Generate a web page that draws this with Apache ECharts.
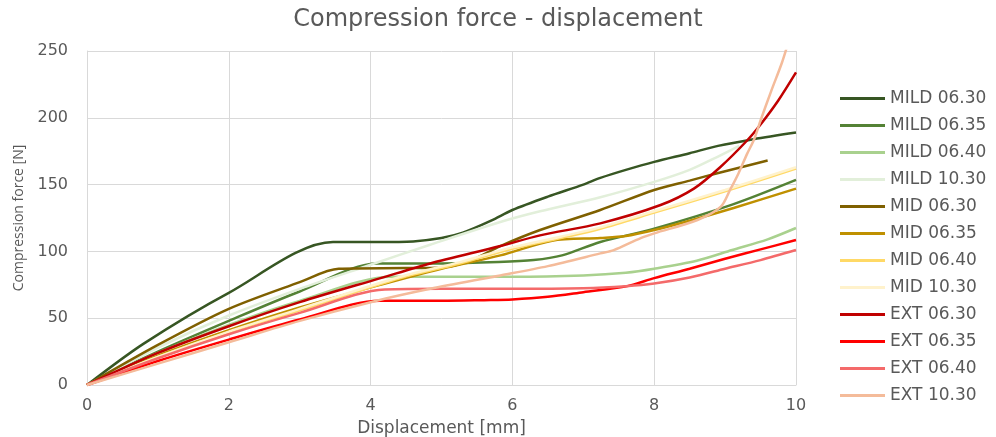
<!DOCTYPE html>
<html>
<head>
<meta charset="utf-8">
<script src="https://cdn.jsdelivr.net/npm/echarts@6/dist/echarts.min.js"></script>
<style>
html,body{margin:0;padding:0;background:#fff;}
#chart{width:996px;height:437px;}
</style>
</head>
<body>
<div id="chart"></div>
<script>
// ---- data (x = displacement [mm], y = compression force [N]) ----
const seriesNames = ["MILD 06.30","MILD 06.35","MILD 06.40","MILD 10.30","MID 06.30","MID 06.35","MID 06.40","MID 10.30","EXT 06.30","EXT 06.35","EXT 06.40","EXT 10.30"];
const seriesColors = ["#375623","#548235","#A9D18E","#E2EFDA","#7F6000","#BF9000","#FFD966","#FFF2CC","#C00000","#FF0000","#F46A6A","#F4BB9A"];

const mild0630 = [[0,0],[0.8,31],[2,69],[3.47,107],[4.1,107],[4.6,107.5],[5,110],[5.3,114],[5.7,123],[6,131],[6.5,141],[7,150],[7.24,155],[7.6,161],[8,167],[8.5,173.5],[8.9,179],[9.4,184],[10,189]];
const mild0635 = [[0,0],[1,25],[2,48],[3,70],[4.1,91],[5,91],[5.8,92],[6.3,93.5],[6.7,97],[7.24,107],[8,117],[9.1,135],[10,153.5]];
const mild0640 = [[0,0],[1,24],[2,45],[3,63],[4.3,81],[5,81],[6,81],[7,82],[7.6,84],[8,87],[8.6,93],[9.1,101],[9.6,109],[10,117.5]];
const mild1030 = [[0,0],[1,28],[2,52],[3,72],[4,90],[4.84,105],[5.83,122],[6.39,130],[7.24,140.5],[8,152],[8.5,161],[8.9,171],[9.2,179]];
const mid0630 = [[0,0],[1,30],[2,57],[3,77],[3.55,87],[4.5,87.5],[5,88],[5.4,93],[5.83,104],[6.39,116],[7.24,131],[8,146],[8.5,153],[8.89,158.5],[9.6,168]];
const mid0635 = [[0,0],[1,22],[2,41],[3,58],[4.14,75],[5,87],[5.83,97],[6.56,108],[7.24,110],[7.6,111.5],[8,116],[8.5,123],[9.12,132.5],[10,147]];
const mid0640 = [[0,0],[1,21],[2,39.5],[3,56],[4.42,80],[5.26,91],[6,102],[6.68,110],[7.24,117],[8,129],[9,145],[10,162]];
const mid1030 = [[0,0],[1,21],[2,40],[3,57],[4.42,81],[5.26,92],[6,103],[6.68,111],[7.24,118],[8,130],[9,146],[10,163]];
const ext0630 = [[0,0],[1,24],[2,44],[3,62],[4.14,80],[4.84,91],[5.83,104],[6.39,112],[7.24,121],[8.09,134.7],[8.56,147],[8.93,163],[9.31,183],[9.5,195],[9.75,213],[10,234]];
const ext0635 = [[0,0],[1,18],[2,34],[3,49],[4.13,63],[5,63],[5.6,63.5],[6,64],[6.5,66],[7,69.5],[7.62,74],[8,80],[8.5,87],[9,94.5],[9.5,101.5],[10,108.5]];
const ext0640 = [[0,0],[1,20],[2,38],[3,54],[4.2,71.5],[5,72],[6,72],[7,72.5],[7.6,74],[8,76],[8.5,80.5],[9,87],[9.5,93.5],[10,101]];
const ext1030 = [[0,0],[1,16],[2,32],[3,48],[4,62],[4.84,72],[5.83,82],[6.5,89],[7.24,98.5],[7.43,101],[7.81,110],[8,113.5],[8.61,123.5],[8.94,133.5],[9.07,146],[9.19,158.5],[9.31,173],[9.41,184],[9.5,198],[9.65,220],[9.8,241],[9.9,258]];

const allData = [mild0630,mild0635,mild0640,mild1030,mid0630,mid0635,mid0640,mid1030,ext0630,ext0635,ext0640,ext1030];

const xTicks = [0,2,4,6,8,10];
const yTicks = [0,50,100,150,200,250];

const FONT = "DejaVu Sans";
const chart = echarts.init(document.getElementById('chart'), null, {renderer:'canvas'});
chart.setOption({
  animation:false,
  backgroundColor:'#ffffff',
  title:{
    text:'Compression force - displacement',
    left:'center', top:3,
    textStyle:{fontFamily:FONT,fontSize:24,fontWeight:'normal',color:'#595959'}
  },
  legend:{
    orient:'vertical', left:835, top:85,
    itemWidth:45, itemHeight:3, itemGap:10, icon:'rect',
    textStyle:{fontFamily:FONT,fontSize:17,color:'#595959',lineHeight:17},
    data:seriesNames
  },
  grid:{left:87,right:200,top:51,bottom:52,containLabel:false,outerBoundsMode:'none'},
  xAxis:{
    type:'value', min:xTicks[0], max:xTicks[xTicks.length-1], interval:2,
    name:'Displacement [mm]', nameLocation:'middle', nameGap:35,
    nameTextStyle:{fontFamily:FONT,fontSize:17,color:'#595959'},
    axisLine:{lineStyle:{color:'#D9D9D9',width:1}},
    axisTick:{show:false},
    axisLabel:{fontFamily:FONT,fontSize:16,color:'#595959',margin:13},
    splitLine:{show:true,lineStyle:{color:'#D9D9D9',width:1}}
  },
  yAxis:{
    type:'value', min:yTicks[0], max:yTicks[yTicks.length-1], interval:50,
    name:'Compression force [N]', nameLocation:'middle', nameGap:61,
    nameTextStyle:{fontFamily:'Open Sans',fontSize:14,color:'#595959'},
    axisLine:{show:true,lineStyle:{color:'#D9D9D9',width:1}},
    axisTick:{show:false},
    axisLabel:{fontFamily:FONT,fontSize:16,color:'#595959',margin:19},
    splitLine:{show:true,lineStyle:{color:'#D9D9D9',width:1}}
  },
  series: seriesNames.map((n,i)=>({
    name:n, type:'line', data:allData[i],
    showSymbol:false, symbol:'none', smooth:0.3,
    clip:true,
    lineStyle:{color:seriesColors[i],width:2.5},
    itemStyle:{color:seriesColors[i]}
  }))
});
</script>
</body>
</html>
